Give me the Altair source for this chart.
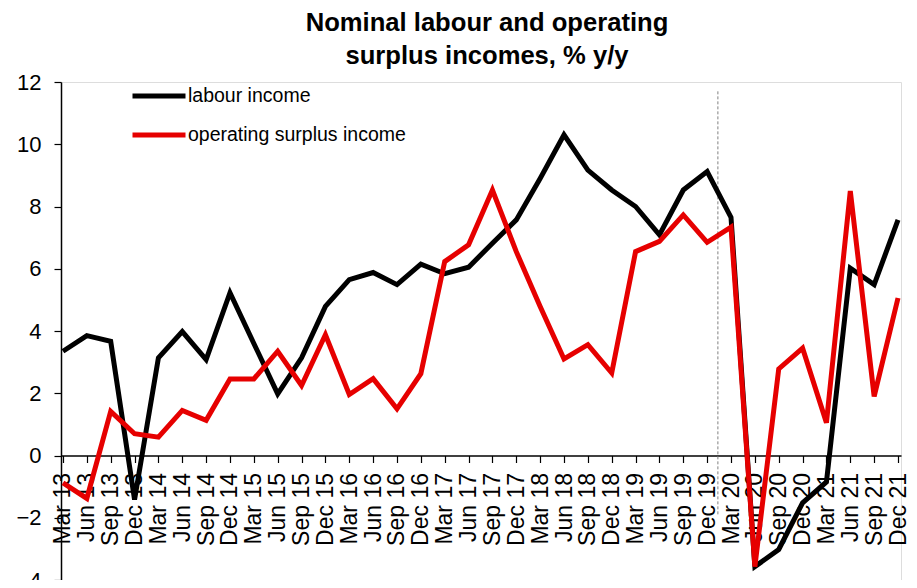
import altair as alt
import pandas as pd

quarters = [
    "Mar 13", "Jun 13", "Sep 13", "Dec 13",
    "Mar 14", "Jun 14", "Sep 14", "Dec 14",
    "Mar 15", "Jun 15", "Sep 15", "Dec 15",
    "Mar 16", "Jun 16", "Sep 16", "Dec 16",
    "Mar 17", "Jun 17", "Sep 17", "Dec 17",
    "Mar 18", "Jun 18", "Sep 18", "Dec 18",
    "Mar 19", "Jun 19", "Sep 19", "Dec 19",
    "Mar 20", "Jun 20", "Sep 20", "Dec 20",
    "Mar 21", "Jun 21", "Sep 21", "Dec 21",
]

labour_income = [
    3.35, 3.85, 3.67, -1.42,
    3.14, 3.98, 3.08, 5.23,
    3.60, 1.98, 3.14, 4.79,
    5.65, 5.88, 5.49, 6.15,
    5.84, 6.05, 6.82, 7.57,
    8.90, 10.30, 9.17, 8.53,
    8.00, 7.09, 8.53, 9.12,
    7.65, -3.57, -3.02, -1.52,
    -0.85, 6.02, 5.49, 7.57,
]

operating_surplus_income = [
    -0.88, -1.38, 1.42, 0.70,
    0.59, 1.45, 1.13, 2.46,
    2.46, 3.35, 2.25, 3.88,
    1.96, 2.47, 1.50, 2.63,
    6.23, 6.77, 8.53, 6.55,
    4.79, 3.10, 3.56, 2.65,
    6.55, 6.88, 7.73, 6.85,
    7.34, -3.57, 2.78, 3.45,
    1.05, 8.50, 1.90, 5.06,
]

series_names = ["labour income", "operating surplus income"]
series_colors = ["#000000", "#E60000"]

# break marker between Dec 19 and Mar 20
break_position = [27.45]
break_span = [11.7, -1.95]

FONT = "Liberation Sans"

rows = []
for i, q in enumerate(quarters):
    rows.append({"idx": i, "quarter": q, "series": series_names[0], "value": labour_income[i]})
for i, q in enumerate(quarters):
    rows.append({"idx": i, "quarter": q, "series": series_names[1], "value": operating_surplus_income[i]})
df = pd.DataFrame(rows)

rule_df = pd.DataFrame({"idx": break_position, "y1": [break_span[0]], "y2": [break_span[1]]})

label_array = "[" + ",".join('"%s"' % q for q in quarters) + "]"

x_scale = alt.Scale(domain=[-0.083, 35.125], nice=False, zero=False)
y_scale = alt.Scale(domain=[-4, 12], nice=False)

x_axis = alt.Axis(
    title=None,
    values=list(range(len(quarters))),
    tickCount=len(quarters),
    labelExpr=label_array + "[datum.value]",
    labelAngle=-90,
    labelFont=FONT,
    labelFontSize=23,
    labelColor="#000000",
    labelPadding=10,
    labelOverlap=False,
    labelFlush=False,
    tickSize=7,
    tickColor="#000000",
    domainColor="#000000",
    domainWidth=1.5,
    tickWidth=1.2,
    grid=False,
    offset=-124.5,
)

y_axis = alt.Axis(
    title=None,
    values=[-4, -2, 0, 2, 4, 6, 8, 10, 12],
    labelFont=FONT,
    labelFontSize=22,
    labelColor="#000000",
    labelPadding=13,
    tickSize=7,
    tickColor="#000000",
    domainColor="#000000",
    domainWidth=1.5,
    tickWidth=1.2,
    grid=False,
)

lines = alt.Chart(df).mark_line(strokeWidth=5, strokeJoin="miter").encode(
    x=alt.X("idx:Q", scale=x_scale, axis=x_axis),
    y=alt.Y("value:Q", scale=y_scale, axis=y_axis),
    color=alt.Color(
        "series:N",
        scale=alt.Scale(domain=series_names, range=series_colors),
        legend=alt.Legend(
            title=None,
            orient="none",
            legendX=69,
            legendY=-15,
            symbolType="stroke",
            symbolSize=2809,
            symbolStrokeWidth=5,
            labelFont=FONT,
            labelFontSize=19.5,
            labelColor="#000000",
            labelOffset=0,
            rowPadding=-13,
            labelLimit=400,
        ),
    ),
    order=alt.Order("idx:Q"),
)

rule = alt.Chart(rule_df).mark_rule(color="#808080", strokeWidth=1, strokeDash=[3, 2]).encode(
    x=alt.X("idx:Q", scale=x_scale),
    y=alt.Y("y1:Q", scale=y_scale),
    y2="y2:Q",
)

chart = alt.layer(rule, lines).properties(
    width=840,
    height=498,
    autosize=alt.AutoSizeParams(type="none"),
    padding={"left": 53, "top": 74, "right": 8, "bottom": 0},
    title=alt.TitleParams(
        ["Nominal labour and operating", "surplus incomes, % y/y"],
        font=FONT,
        fontSize=25.6,
        fontWeight="bold",
        color="#000000",
        anchor="middle",
        dx=6,
        offset=-3,
        lineHeight=33.5,
    ),
).configure_view(stroke=None).configure(background="#ffffff")

chart.save("out.html", embed_options={"renderer": "svg", "actions": False})
